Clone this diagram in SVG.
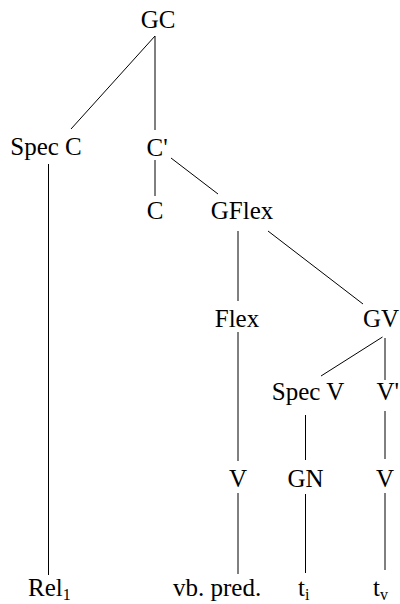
<svg xmlns="http://www.w3.org/2000/svg" width="400" height="604" viewBox="0 0 400 604">
<style>
text{font-family:'Liberation Serif','Times New Roman',Times,serif;font-size:25px;fill:#000}
.m{text-anchor:middle}
.sub{font-size:16px}
#edges line{stroke:#000;stroke-width:1;fill:none}
</style>
<rect width="400" height="604" fill="#fff"/>
<g id="edges">
<line x1="155" y1="36" x2="71" y2="129"/>
<line x1="155" y1="36" x2="155" y2="130"/>
<line x1="48.5" y1="164" x2="48.5" y2="575"/>
<line x1="155" y1="160" x2="155" y2="196"/>
<line x1="171" y1="158" x2="218" y2="194"/>
<line x1="238" y1="231" x2="238" y2="301"/>
<line x1="268" y1="231" x2="363" y2="304"/>
<line x1="382.5" y1="337" x2="321" y2="376"/>
<line x1="385" y1="338" x2="385" y2="380"/>
<line x1="238" y1="332" x2="238" y2="461"/>
<line x1="305.5" y1="415" x2="305.5" y2="460"/>
<line x1="385" y1="411" x2="385" y2="459"/>
<line x1="238" y1="493" x2="238" y2="574"/>
<line x1="305.5" y1="494" x2="305.5" y2="573"/>
<line x1="385" y1="493" x2="385" y2="570"/>
</g>
<g font-family="Liberation Serif, serif">
<g id="GC"><text class="m" x="158" y="28">GC</text></g>
<g id="SpecC"><text class="m" x="46" y="155">Spec C</text></g>
<g id="Cbar"><text x="146.5" y="156">C'</text></g>
<g id="C"><text class="m" x="155" y="219">C</text></g>
<g id="GFlex"><text class="m" x="242" y="219">GFlex</text></g>
<g id="Flex"><text class="m" x="237" y="327">Flex</text></g>
<g id="GV"><text class="m" x="381" y="327">GV</text></g>
<g id="SpecV"><text class="m" x="308" y="400">Spec V</text></g>
<g id="Vbar"><text x="376.5" y="400">V'</text></g>
<g id="V1"><text class="m" x="238" y="487">V</text></g>
<g id="GN"><text class="m" x="305.5" y="487">GN</text></g>
<g id="V2"><text class="m" x="385" y="487">V</text></g>
<g id="Rel"><text x="28" y="596">Rel<tspan class="sub" dy="4">1</tspan></text></g>
<g id="vbpred"><text x="173" y="596">vb. pred.</text></g>
<g id="ti"><text x="298" y="596">t<tspan class="sub" dy="4">i</tspan></text></g>
<g id="tv"><text x="373" y="596">t<tspan class="sub" dy="4">v</tspan></text></g>
</g>
</svg>
